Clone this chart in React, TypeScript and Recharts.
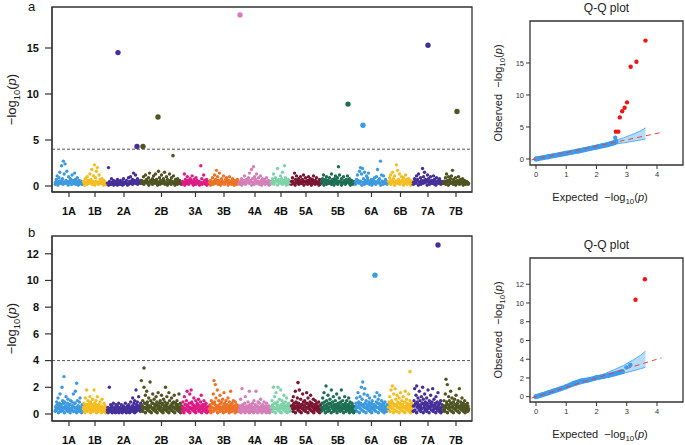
import React from 'react';
import {
  ScatterChart,
  Scatter,
  XAxis,
  YAxis,
  ReferenceLine,
  ReferenceArea,
  ComposedChart,
  Area,
} from 'recharts';

const FONT = '"Liberation Sans", Arial, Helvetica, sans-serif';

// ---------- chromosomes ----------
const chromosomes = ['1A', '1B', '2A', '2B', '3A', '3B', '4A', '4B', '5A', '5B', '6A', '6B', '7A', '7B'];
const chromLengthMb = [560, 480, 680, 820, 540, 600, 640, 400, 600, 680, 660, 500, 600, 520];
const chromPalette = ['#3D9AE0', '#F5BD1F', '#45309A', '#4E5422', '#DD1C85', '#EE7226', '#D57FBA', '#7FD3A9', '#7B1732', '#1F6F54', '#3D9AE0', '#F5BD1F', '#45309A', '#4E5422'];

// ---------- panel a : background SNPs (-log10 p, in marker order) ----------
const a_1A = [.4, .7, 1.1, .3, .9, 1.5, .5, 2.2, .8, 2.7, 1.3, 2.4, .6, 1.6, .3, 1.0, .5, .8, .2, 1.2, .6, .4, 1.4, .7, .3, .9, .5, .6, .3, .5, .2, .4];
const a_1B = [.5, .3, .8, .4, 1.0, .6, .3, 1.3, .7, 1.8, .5, 1.1, 2.3, .9, 1.6, 2.0, .4, 1.2, .7, .3, .8, .5, .6, .4, .2, .3];
const a_2A = [.3, 2.0, .5, .2, .8, .4, .6, .3, .5, .2, .7, .4, .3, .6, .2, .5, .8, .3, .4, .6, .2, .9, .5, 1.0, .4, .7, 1.4, .6, 1.2, .3, .8, .5, .4, .6];
const a_2B = [.6, .3, 1.0, .5, 1.2, .7, .4, .9, 1.4, .6, .3, .8, 1.1, .5, 1.3, .7, .4, 1.6, .9, .6, 1.2, .5, .8, 1.5, .4, 1.0, .7, .3, 1.3, .6, .9, .5, 1.1, .4, .7, .3, .8, .5, .6, .3, .4];
const a_3A = [.5, .3, 1.3, .7, .4, 1.0, .6, .3, .8, .5, 1.1, .4, .7, .3, .9, .6, .4, .5, .3, 2.2, .8, .3, 1.2, .6, .4, .7, .5, .3];
const a_3B = [.4, .6, .3, .9, .5, 1.2, .7, 1.7, 1.0, .6, 1.4, .4, .8, .5, 1.1, .3, .7, .9, .4, .6, 1.0, .3, .5, .8, .4, .6, .3, .5, .7, .4];
const a_4A = [.3, .5, .8, .4, .6, 1.1, .3, .7, .5, .9, 1.4, .6, 1.8, .8, 2.1, 1.0, .7, 1.3, .5, .9, .4, 1.1, .6, .8, .3, .7, .5, .9, .4, .6, .3, .5];
const a_4B = [.4, .8, 1.3, .5, .9, .6, 1.9, .7, .4, 1.1, .8, 1.5, .5, 2.2, .9, .6, .3, .7, .5, .4];
const a_5A = [.5, .9, .3, 1.4, .7, 1.1, .4, .8, .6, 1.0, .3, .7, 1.2, .5, .9, .4, .6, 1.0, .3, .8, .5, .7, 1.1, .4, .6, .9, .3, .5, .7, .4];
const a_5B = [.5, .8, 1.2, .4, .7, 1.0, .6, .3, .9, .5, 1.3, .7, .4, .8, 1.1, .6, .9, 2.1, 1.2, .5, .8, .4, 1.0, .6, .3, .7, 1.1, .5, .8, .4, .6, .3, .5, .4];
const a_6A = [.4, .7, 1.2, .5, 1.6, 2.0, 1.3, 1.9, .8, 1.5, .6, 1.1, .9, 1.4, .5, .3, .7, .4, .6, .9, .3, 1.0, 1.8, .6, .8, 2.7, 1.2, .5, 1.1, .4, .7, .3, .5];
const a_6B = [.5, .9, 1.2, .6, 1.5, .8, 1.1, .4, 2.3, 1.7, .7, 1.3, .5, 1.0, .6, .9, .4, 1.2, .7, .5, .8, .3, .6, .4, .5];
const a_7A = [.4, .8, .5, 1.1, .7, 1.3, .4, .9, .6, 1.9, 1.0, 1.5, .7, .5, 1.2, .8, .4, 1.0, .6, .3, 1.1, .7, .5, .9, .4, .6, .8, .3, .5, .4];
const a_7B = [.5, .3, .9, 1.3, .6, 1.0, .4, .8, 1.1, 1.7, .7, .5, .9, .4, .6, 1.0, .3, .7, .5, .8, .4, .6, .3, .5, .4, .3];

// panel a : dense low-signal core of each chromosome
const aCore_1A = [.2, .4, .1, .5, .3, .6, .2, .4, .3, .5, .1, .4, .6, .2, .3, .5, .2, .4, .1, .3, .5, .2];
const aCore_1B = [.3, .1, .4, .2, .5, .3, .6, .2, .4, .1, .5, .3, .2, .4, .6, .3, .1, .4, .2];
const aCore_2A = [.2, .1, .3, .2, .4, .1, .3, .2, .1, .4, .2, .3, .1, .2, .4, .3, .1, .2, .3, .5, .2, .4, .3, .5, .2, .4, .3];
const aCore_2B = [.3, .5, .2, .4, .6, .3, .1, .5, .4, .2, .6, .3, .5, .1, .4, .2, .5, .3, .6, .2, .4, .1, .3, .5, .2, .4, .3, .1, .5, .2, .4, .3, .2];
const aCore_3A = [.2, .4, .1, .3, .5, .2, .4, .6, .3, .1, .4, .2, .5, .3, .1, .4, .2, .3, .5, .2, .1, .3];
const aCore_3B = [.3, .1, .4, .2, .5, .3, .6, .2, .4, .1, .5, .3, .2, .4, .6, .1, .3, .5, .2, .4, .1, .3, .2, .4];
const aCore_4A = [.2, .4, .1, .3, .5, .2, .4, .6, .3, .5, .1, .4, .2, .6, .3, .5, .2, .4, .1, .3, .5, .2, .4, .3, .1, .2];
const aCore_4B = [.3, .5, .2, .4, .6, .1, .4, .3, .5, .2, .6, .3, .1, .4, .2, .3];
const aCore_5A = [.2, .5, .3, .1, .4, .6, .2, .5, .3, .4, .1, .5, .3, .2, .6, .4, .1, .3, .5, .2, .4, .3, .1, .2];
const aCore_5B = [.3, .5, .1, .4, .2, .6, .3, .5, .2, .4, .1, .6, .3, .2, .5, .4, .1, .3, .5, .2, .4, .6, .3, .1, .4, .2, .3];
const aCore_6A = [.2, .4, .6, .3, .5, .1, .4, .2, .5, .3, .6, .2, .4, .1, .3, .5, .2, .4, .6, .3, .1, .5, .2, .4, .3, .2];
const aCore_6B = [.3, .5, .2, .6, .4, .1, .5, .3, .6, .2, .4, .5, .1, .3, .6, .2, .4, .3, .1, .2];
const aCore_7A = [.2, .5, .3, .6, .1, .4, .2, .5, .3, .6, .4, .1, .5, .2, .4, .3, .6, .2, .1, .4, .3, .5, .2, .3];
const aCore_7B = [.3, .5, .2, .4, .1, .6, .3, .4, .2, .5, .1, .3, .4, .2, .5, .3, .1, .4, .2, .3, .2];

// panel a : significant / highlighted markers
const a_hitChrom = ['2A', '2A', '2B', '2B', '2B', '4A', '5B', '6A', '7A', '7B'];
const a_hitPosMb = [220, 600, 40, 340, 640, 20, 540, 160, 300, 280];
const a_hitValue = [14.5, 4.3, 4.3, 7.5, 3.3, 18.6, 8.9, 6.6, 15.3, 8.1];

// ---------- panel b : background SNPs ----------
const b_1A = [.3, .6, .9, .4, 1.2, .5, .8, 1.5, .3, .7, 2.0, 1.0, .5, 2.8, .9, .6, 1.3, .4, .8, 1.1, .5, .3, .7, 1.0, .4, .9, .6, 1.5, .2, .8, 1.7, .5, 2.3, 1.0, .6, .4, .9, 1.2, .5, .3, .7, .4];
const b_1B = [.4, .8, .5, 1.2, .3, 1.8, .7, 1.0, .4, .6, 1.3, .9, .3, .7, 1.1, .5, 1.8, .8, .4, 1.0, .6, 1.3, .3, .7, .5, .9, .4, .6, 1.1, .3, .5, .8, .4, .6, .3, .5];
const b_2A = [.3, .5, .2, 2.0, .4, .7, .3, .6, .2, .8, .4, .5, .3, .7, .2, .6, .4, .8, .3, .5, .2, .7, .4, .3, .6, .2, .5, .8, .3, .4, .6, .2, .7, .5, .3, .9, .4, .6, 1.2, .5, .8, 1.0, .4, 1.8, .7, .9, .5, 1.3, .6, .4, .8];
const b_2B = [2.5, .6, 1.0, .4, 2.0, .8, 1.4, .5, 1.7, .9, .3, 1.2, .6, 2.4, 1.0, .5, .8, 1.5, .4, 1.1, .7, .3, 1.3, .9, .6, 1.6, .4, .8, 1.0, .5, 1.4, .7, .3, 1.1, .6, .9, 2.0, .5, 1.3, .8, .4, 1.6, 1.0, .6, .3, 1.2, .7, .5, .9, 1.4, .4, .8, .6, 1.0, .3, .7, 1.5, .5, .8, .4, .6];
const b_3A = [.5, .9, .3, 1.3, .7, .4, 1.0, 1.7, .6, .3, .8, 1.5, .5, 1.8, .9, .4, .7, 1.2, .3, .6, 1.0, .5, .8, .4, 1.1, .6, .3, .9, 1.4, .5, .7, .4, 1.0, .3, .6, .8, .4, .5, .3, .6];
const b_3B = [.4, .7, .3, 1.0, .5, .8, 1.5, 2.5, .9, 2.2, 1.2, .6, 1.8, .4, 1.0, .7, 1.4, .5, .9, .3, 1.1, .6, 1.6, .8, .4, 1.0, .5, .7, 1.2, .3, .9, .6, 1.7, .4, .8, .5, 1.0, .3, .6, .9, .4, .7, .3, .5, .6];
const b_4A = [.3, .6, 1.1, .4, 1.9, .7, .3, .5, .8, 1.3, .4, .6, .3, .9, .5, 1.7, .7, .4, .6, .3, .8, .5, 1.0, .4, .7, 1.7, .6, .3, .9, .5, .8, .4, 1.1, .6, .3, .7, .5, .9, .4, .6, .3, .8, .5, .4, .6, .3, .5, .4];
const b_4B = [.5, 1.0, .7, 2.0, .4, 1.3, .8, 1.6, .5, .9, 2.0, .6, 1.1, .4, 1.8, .7, 1.0, .5, .8, 1.4, .6, .9, .4, 1.2, .7, .5, .8, .4, .6, .3];
const b_5A = [.6, 1.0, .4, 1.3, .8, .5, 1.7, .9, .6, 1.2, .4, .8, 1.8, .5, 1.1, .7, .4, 1.5, .9, .6, 1.0, .3, .8, 1.6, .5, 1.2, .7, .4, .9, 1.4, .6, .8, .5, 1.1, .3, .7, 1.0, .5, .8, .4, .6, .9, .3, .5, .7];
const b_5B = [.5, .8, 1.2, .4, 1.6, .9, .6, 2.1, 1.0, .5, 1.4, .8, .3, 1.1, .7, 1.8, .5, .9, 1.3, .6, .4, 1.0, .7, 1.5, .5, .8, .3, 1.2, .6, .9, 1.8, .4, 1.0, .7, .5, 1.3, .8, .6, 1.0, .4, .7, 1.2, .5, .9, .3, .6, .8, .4, .6, .5, .3];
const b_6A = [.4, .8, 1.2, .5, 1.6, .9, .6, 1.3, .8, 2.0, 1.1, 2.4, .7, 1.5, 1.9, .5, 1.0, .7, 1.4, .4, .9, 1.2, .6, .3, .8, 1.0, .5, .7, .4, 1.3, .6, .9, 1.6, .5, 1.1, .8, 1.4, .4, .7, 1.0, .5, .8, .3, .6, .9, .4, .5, .7, .4];
const b_6B = [.5, .9, 1.3, .6, 1.8, 1.0, 2.1, .8, 1.5, .7, 1.9, 1.1, .6, 1.4, .9, .5, 1.2, .8, 1.6, .4, 1.0, .7, 1.3, .5, .9, 1.7, .6, 1.1, .8, .4, 1.5, .7, 1.0, .6, .8, .5, .7];
const b_7A = [.6, 1.0, 1.9, .7, 1.4, 2.1, .9, 1.2, .5, 1.7, 1.0, .6, 1.3, .8, 2.0, 1.1, .7, 1.5, .9, .4, 1.2, .8, 1.8, .6, 1.0, .5, 1.4, .7, .9, 1.9, .6, 1.1, .4, .8, 1.3, .5, .9, 1.6, .7, .4, .8, 1.0, .5, .7, .6];
const b_7B = [.6, 1.0, .4, 1.5, 2.6, .9, 2.2, .7, 1.3, 1.0, .5, 1.7, .8, 1.2, .6, .9, .4, 1.1, .7, 1.4, .5, .8, 1.0, .6, 1.9, .4, .9, .7, 1.2, .5, .8, .6, 1.0, .4, .7, .5, .8, .6, .4];

// panel b : dense low-signal core
const bCore_1A = [.2, .5, .3, .7, .1, .4, .6, .2, .5, .3, .8, .1, .4, .6, .3, .2, .5, .7, .1, .4, .3, .6, .2, .5, .8, .3, .1, .4, .6, .2, .5, .3, .1, .2];
const bCore_1B = [.3, .6, .1, .4, .7, .2, .5, .3, .8, .1, .4, .6, .2, .5, .3, .7, .1, .4, .2, .6, .3, .5, .1, .4, .2, .3, .5, .1, .2];
const bCore_2A = [.2, .1, .4, .3, .2, .5, .1, .3, .2, .4, .1, .3, .5, .2, .1, .4, .3, .2, .1, .5, .3, .2, .4, .1, .3, .2, .5, .1, .3, .4, .2, .6, .3, .1, .5, .2, .4, .6, .3, .5, .2];
const bCore_2B = [.3, .6, .2, .5, .8, .1, .4, .7, .3, .5, .2, .6, .1, .4, .8, .3, .5, .2, .7, .1, .4, .6, .3, .5, .2, .8, .1, .4, .6, .3, .7, .2, .5, .1, .4, .6, .3, .8, .2, .5, .1, .4, .7, .3, .5, .2, .4, .1, .3];
const bCore_3A = [.2, .5, .1, .4, .7, .3, .6, .2, .5, .1, .4, .8, .3, .6, .2, .5, .1, .4, .7, .3, .2, .6, .4, .1, .5, .3, .7, .2, .4, .1, .3, .2];
const bCore_3B = [.3, .6, .1, .5, .8, .2, .4, .7, .3, .5, .1, .6, .4, .2, .8, .3, .5, .1, .4, .7, .2, .6, .3, .5, .1, .4, .7, .2, .5, .3, .6, .1, .4, .2, .3, .2];
const bCore_4A = [.2, .4, .1, .3, .6, .2, .5, .1, .3, .4, .2, .6, .1, .3, .5, .2, .4, .1, .3, .5, .2, .6, .1, .4, .3, .2, .5, .1, .3, .4, .2, .5, .1, .3, .2, .4, .1, .2];
const bCore_4B = [.3, .6, .2, .5, .8, .1, .4, .7, .3, .5, .2, .6, .1, .4, .7, .3, .5, .2, .6, .1, .4, .3, .2, .3];
const bCore_5A = [.3, .6, .2, .7, .4, .1, .5, .8, .3, .6, .2, .5, .1, .7, .4, .3, .6, .2, .5, .8, .1, .4, .6, .3, .7, .2, .5, .1, .4, .6, .3, .5, .2, .4, .1, .3];
const bCore_5B = [.2, .5, .8, .3, .6, .1, .4, .7, .2, .5, .3, .8, .1, .6, .4, .2, .7, .3, .5, .1, .6, .4, .8, .2, .5, .3, .7, .1, .4, .6, .2, .5, .3, .7, .1, .4, .2, .5, .3, .1, .2];
const bCore_6A = [.3, .6, .2, .5, .8, .1, .4, .7, .3, .6, .2, .5, .8, .1, .4, .6, .3, .7, .2, .5, .1, .4, .7, .3, .6, .2, .5, .8, .1, .4, .6, .3, .5, .2, .7, .1, .4, .3, .2, .3];
const bCore_6B = [.3, .7, .2, .5, .8, .4, .1, .6, .3, .7, .2, .5, .8, .1, .4, .6, .3, .7, .2, .5, .1, .4, .6, .3, .5, .2, .4, .1, .3, .2];
const bCore_7A = [.2, .6, .3, .8, .1, .5, .7, .3, .6, .2, .4, .8, .1, .5, .3, .7, .2, .6, .4, .1, .5, .8, .3, .6, .2, .4, .7, .1, .5, .3, .6, .2, .4, .1, .3, .2];
const bCore_7B = [.3, .6, .2, .5, .7, .1, .4, .6, .3, .8, .2, .5, .1, .4, .7, .3, .6, .2, .5, .1, .4, .6, .3, .5, .2, .4, .1, .3, .5, .2, .3];

const b_hitChrom = ['2B', '5A', '6A', '6B', '7A'];
const b_hitPosMb = [60, 140, 400, 440, 500];
const b_hitValue = [3.45, 2.35, 10.4, 3.17, 12.66];

// ---------- Q-Q data ----------
const qqA_expected = [0, .2, .4, .6, .8, 1.0, 1.2, 1.4, 1.6, 1.8, 2.0, 2.2, 2.35, 2.5, 2.6, 2.64];
const qqA_observed = [0, .17, .35, .53, .71, .89, 1.07, 1.25, 1.45, 1.66, 1.86, 2.06, 2.2, 2.4, 2.58, 2.7];
const qqA_extraExp = [2.62];
const qqA_extraObs = [3.33];
const qqA_sigExp = [2.64, 2.72, 2.77, 2.85, 2.93, 3.01, 3.13, 3.32, 3.62];
const qqA_sigObs = [4.27, 4.27, 6.5, 7.45, 8.0, 8.85, 14.4, 15.2, 18.5];

const qqB_expected = [0, .2, .4, .6, .8, 1.0, 1.25, 1.5, 1.75, 2.0, 2.2, 2.4, 2.6, 2.75, 2.85];
const qqB_observed = [0, .2, .41, .62, .84, 1.06, 1.43, 1.68, 1.8, 2.03, 2.14, 2.28, 2.44, 2.56, 2.67];
const qqB_extraExp = [2.99, 3.12];
const qqB_extraObs = [3.13, 3.38];
const qqB_sigExp = [3.29, 3.6];
const qqB_sigObs = [10.35, 12.53];

const bandExp = [0, .5, 1, 1.5, 2, 2.3, 2.6, 2.9, 3.2, 3.45, 3.62];
const bandA_low = [0, .43, .9, 1.37, 1.82, 2.07, 2.32, 2.52, 2.76, 2.96, 3.12];
const bandA_high = [.02, .55, 1.07, 1.6, 2.15, 2.5, 2.9, 3.32, 3.86, 4.38, 4.86];
const bandB_low = [0, .43, .9, 1.37, 1.82, 2.05, 2.3, 2.5, 2.75, 2.97, 3.15];
const bandB_high = [.02, .55, 1.07, 1.6, 2.15, 2.5, 2.9, 3.35, 3.9, 4.4, 4.87];

const diagonalEnds = [-0.15, 4.15];

// ---------- derived ----------
const chromStarts: number[] = [];
chromLengthMb.reduce((acc, len, i) => {
  chromStarts[i] = acc;
  return acc + len;
}, 0);
const chromCenters = chromosomes.map((_, i) => chromStarts[i] + chromLengthMb[i] / 2);
const X_MIN = -60;
const X_MAX = chromStarts[13] + chromLengthMb[13] + 60;

const panelABg = [a_1A, a_1B, a_2A, a_2B, a_3A, a_3B, a_4A, a_4B, a_5A, a_5B, a_6A, a_6B, a_7A, a_7B];
const panelACore = [aCore_1A, aCore_1B, aCore_2A, aCore_2B, aCore_3A, aCore_3B, aCore_4A, aCore_4B, aCore_5A, aCore_5B, aCore_6A, aCore_6B, aCore_7A, aCore_7B];
const panelBBg = [b_1A, b_1B, b_2A, b_2B, b_3A, b_3B, b_4A, b_4B, b_5A, b_5B, b_6A, b_6B, b_7A, b_7B];
const panelBCore = [bCore_1A, bCore_1B, bCore_2A, bCore_2B, bCore_3A, bCore_3B, bCore_4A, bCore_4B, bCore_5A, bCore_5B, bCore_6A, bCore_6B, bCore_7A, bCore_7B];

function chromPoints(vals: number[], ci: number, shift: number) {
  const len = chromLengthMb[ci];
  const n = vals.length;
  return vals.map((v, i) => ({ x: chromStarts[ci] + ((i + shift) * len) / n, y: v }));
}

function hitPoints(chroms: string[], pos: number[], vals: number[]) {
  return chroms.map((c, i) => {
    const ci = chromosomes.indexOf(c);
    return { x: chromStarts[ci] + pos[i], y: vals[i], color: chromPalette[ci] };
  });
}

function pairs(xs: number[], ys: number[]) {
  return xs.map((x, i) => ({ x, y: ys[i] }));
}

function bandData(lo: number[], hi: number[]) {
  return bandExp.map((x, i) => ({ x, band: [lo[i], hi[i]] }));
}

const tickLabel = (v: number) => {
  const i = chromCenters.findIndex((c) => Math.abs(c - v) < 1);
  return i >= 0 ? chromosomes[i] : '';
};

// ---------- components ----------
type ManhattanProps = {
  bg: number[][];
  core: number[][];
  hits: { x: number; y: number; color: string }[];
  yMin: number;
  yMax: number;
  yTicks: number[];
  top: number;
};

function Manhattan({ bg, core, hits, yMin, yMax, yTicks, top }: ManhattanProps) {
  return (
    <div style={{ position: 'absolute', left: 0, top }}>
      <ScatterChart width={480} height={222} margin={{ top: 7, right: 8, left: 0, bottom: 0 }}>
        <XAxis
          type="number"
          dataKey="x"
          domain={[X_MIN, X_MAX]}
          allowDataOverflow
          ticks={chromCenters}
          interval={0}
          tickFormatter={tickLabel}
          height={30}
          tickSize={5}
          tickMargin={10}
          axisLine={{ stroke: '#333', strokeWidth: 1.2 }}
          tickLine={{ stroke: '#333', strokeWidth: 1.2 }}
          tick={{ fontSize: 11, fontWeight: 'bold', fill: '#111', fontFamily: FONT }}
        />
        <YAxis
          type="number"
          dataKey="y"
          domain={[yMin, yMax]}
          allowDataOverflow
          ticks={yTicks}
          interval={0}
          width={52}
          tickSize={7}
          tickMargin={6}
          axisLine={{ stroke: '#333', strokeWidth: 1.2 }}
          tickLine={{ stroke: '#333', strokeWidth: 1.2 }}
          tick={{ fontSize: 11, fontWeight: 'bold', fill: '#111', fontFamily: FONT }}
        />
        <ReferenceArea x1={X_MIN} x2={X_MAX} y1={yMin} y2={yMax} fill="none" fillOpacity={0} stroke="#333" strokeWidth={1.3} />
        <ReferenceLine y={4} stroke="#555" strokeWidth={1} strokeDasharray="3 2" />
        {core.map((vals, ci) => (
          <Scatter
            key={'c' + ci}
            data={chromPoints(vals, ci, 0.3)}
            fill={chromPalette[ci]}
            isAnimationActive={false}
            shape={(p: any) => <circle cx={p.cx} cy={p.cy} r={1.8} fill={chromPalette[ci]} />}
          />
        ))}
        {bg.map((vals, ci) => (
          <Scatter
            key={'b' + ci}
            data={chromPoints(vals, ci, 0.5)}
            fill={chromPalette[ci]}
            isAnimationActive={false}
            shape={(p: any) => <circle cx={p.cx} cy={p.cy} r={1.7} fill={chromPalette[ci]} />}
          />
        ))}
        <Scatter
          data={hits}
          isAnimationActive={false}
          shape={(p: any) => (
            <circle cx={p.cx} cy={p.cy} r={p.payload.y > 4 ? 2.7 : 1.8} fill={p.payload.color} />
          )}
        />
      </ScatterChart>
    </div>
  );
}

type QQProps = {
  top: number;
  curve: { x: number; y: number }[];
  extra: { x: number; y: number }[];
  sig: { x: number; y: number }[];
  band: { x: number; band: number[] }[];
  yMin: number;
  yMax: number;
  yTicks: number[];
};

const QQ_X_MIN = -0.198;
const QQ_X_MAX = 4.86;
const BLUE = '#3B9BEF';

function QQ({ top, curve, extra, sig, band, yMin, yMax, yTicks }: QQProps) {
  const diag = pairs(diagonalEnds, diagonalEnds);
  return (
    <div style={{ position: 'absolute', left: 480, top }}>
      <ComposedChart width={205} height={215} data={band} margin={{ top: 21, right: 2, left: 0, bottom: 0 }}>
        <XAxis
          type="number"
          dataKey="x"
          domain={[QQ_X_MIN, QQ_X_MAX]}
          allowDataOverflow
          ticks={[0, 1, 2, 3, 4]}
          interval={0}
          height={50}
          tickSize={4}
          tickMargin={3}
          axisLine={false}
          tickLine={{ stroke: '#333', strokeWidth: 1 }}
          tick={{ fontSize: 7.5, fill: '#333', fontFamily: FONT }}
        />
        <YAxis
          type="number"
          dataKey="y"
          domain={[yMin, yMax]}
          allowDataOverflow
          ticks={yTicks}
          interval={0}
          width={50}
          tickSize={4}
          tickMargin={2}
          axisLine={false}
          tickLine={{ stroke: '#333', strokeWidth: 1 }}
          tick={{ fontSize: 7.5, fill: '#333', fontFamily: FONT }}
        />
        <Area
          type="linear"
          dataKey="band"
          fill="#A9D5F8"
          fillOpacity={0.85}
          stroke={BLUE}
          strokeWidth={0.8}
          isAnimationActive={false}
          dot={false}
          activeDot={false}
        />
        <Scatter
          data={curve}
          isAnimationActive={false}
          line={{ stroke: BLUE, strokeWidth: 5, strokeLinecap: 'round' }}
          lineType="joint"
          shape={(p: any) => <circle cx={p.cx} cy={p.cy} r={2.4} fill={BLUE} />}
        />
        <Scatter
          data={diag}
          isAnimationActive={false}
          line={{ stroke: '#E8413A', strokeWidth: 1, strokeDasharray: '5 4' }}
          lineType="joint"
          shape={() => <g />}
        />
        <Scatter
          data={extra}
          isAnimationActive={false}
          shape={(p: any) => <circle cx={p.cx} cy={p.cy} r={2.2} fill={BLUE} />}
        />
        <Scatter
          data={sig}
          isAnimationActive={false}
          shape={(p: any) => <circle cx={p.cx} cy={p.cy} r={2.2} fill="#F01414" />}
        />
        <ReferenceArea x1={QQ_X_MIN} x2={QQ_X_MAX} y1={yMin} y2={yMax} fill="none" fillOpacity={0} stroke="#333" strokeWidth={1.3} />
      </ComposedChart>
    </div>
  );
}

function LogText({ x, y, size, rotate, prefix, anchor }: { x: number; y: number; size: number; rotate?: boolean; prefix?: string; anchor?: string }) {
  const sub = size * 0.3;
  return (
    <text
      x={x}
      y={y}
      fontSize={size}
      textAnchor={anchor || 'middle'}
      fill="#222"
      fontFamily={FONT}
      transform={rotate ? `rotate(-90 ${x} ${y})` : undefined}
    >
      {prefix || ''}
      {'\u2212log'}
      <tspan fontSize={size * 0.72} dy={sub}>
        10
      </tspan>
      <tspan dy={-sub}>(</tspan>
      <tspan fontStyle="italic">p</tspan>
      <tspan>)</tspan>
    </text>
  );
}

export default function App() {
  const hitsA = hitPoints(a_hitChrom, a_hitPosMb, a_hitValue);
  const hitsB = hitPoints(b_hitChrom, b_hitPosMb, b_hitValue);
  return (
    <div style={{ position: 'absolute', left: 0, top: 0, width: 685, height: 445, background: '#fff', overflow: 'hidden', fontFamily: FONT }}>
      <Manhattan bg={panelABg} core={panelACore} hits={hitsA} yMin={-0.652} yMax={19.457} yTicks={[0, 5, 10, 15]} top={0} />
      <Manhattan bg={panelBBg} core={panelBCore} hits={hitsB} yMin={-0.524} yMax={13.33} yTicks={[0, 2, 4, 6, 8, 10, 12]} top={229} />
      <QQ
        top={0}
        curve={pairs(qqA_expected, qqA_observed)}
        extra={pairs(qqA_extraExp, qqA_extraObs)}
        sig={pairs(qqA_sigExp, qqA_sigObs)}
        band={bandData(bandA_low, bandA_high)}
        yMin={-0.94}
        yMax={21.56}
        yTicks={[0, 5, 10, 15]}
      />
      <QQ
        top={237}
        curve={pairs(qqB_expected, qqB_observed)}
        extra={pairs(qqB_extraExp, qqB_extraObs)}
        sig={pairs(qqB_sigExp, qqB_sigObs)}
        band={bandData(bandB_low, bandB_high)}
        yMin={-0.566}
        yMax={14.8}
        yTicks={[0, 2, 4, 6, 8, 10, 12]}
      />
      <svg width={685} height={445} style={{ position: 'absolute', left: 0, top: 0, pointerEvents: 'none' }}>
        <text x={28} y={10.5} fontSize={13} fill="#111" fontFamily={FONT}>a</text>
        <text x={28} y={236.5} fontSize={13} fill="#111" fontFamily={FONT}>b</text>
        <LogText x={16} y={99.5} size={13} rotate />
        <LogText x={16} y={328.5} size={13} rotate />
        <text x={606.5} y={11.5} fontSize={12} textAnchor="middle" fill="#222" fontFamily={FONT}>Q-Q plot</text>
        <text x={606.5} y={248.5} fontSize={12} textAnchor="middle" fill="#222" fontFamily={FONT}>Q-Q plot</text>
        <LogText x={502} y={93} size={11} rotate prefix={'Observed\u00A0\u00A0'} />
        <LogText x={502} y={330} size={11} rotate prefix={'Observed\u00A0\u00A0'} />
        <LogText x={600} y={201} size={11} prefix={'Expected\u00A0\u00A0'} />
        <LogText x={600} y={438} size={11} prefix={'Expected\u00A0\u00A0'} />
      </svg>
    </div>
  );
}
